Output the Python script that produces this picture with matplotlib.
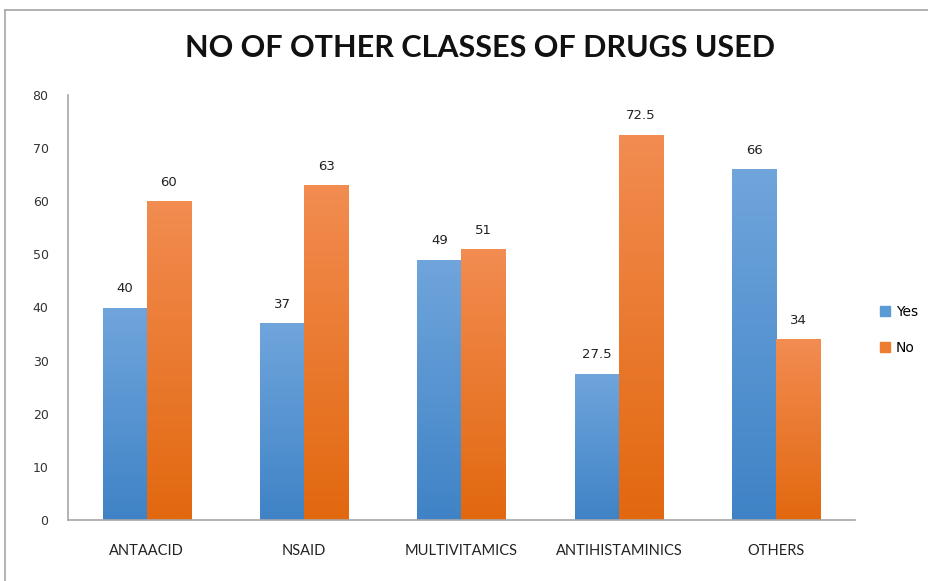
import numpy as np
import matplotlib.pyplot as plt
from matplotlib.colors import LinearSegmentedColormap
from matplotlib.lines import Line2D

categories = ['ANTAACID', 'NSAID', 'MULTIVITAMICS', 'ANTIHISTAMINICS', 'OTHERS']
yes_vals = [40, 37, 49, 27.5, 66]
no_vals = [60, 63, 51, 72.5, 34]
yes_labels = ['40', '37', '49', '27.5', '66']
no_labels = ['60', '63', '51', '72.5', '34']
yticks = [0, 10, 20, 30, 40, 50, 60, 70, 80]

fig = plt.figure(figsize=(9.29, 5.81), dpi=100)
ax = fig.add_axes([68/929, 1 - 520/581, (855-68)/929, (520-95)/581])

# outer chart frame
fig.add_artist(Line2D([5/929, 1], [1 - 10/581, 1 - 10/581], color='#a6a6a6', lw=1.2, transform=fig.transFigure))
fig.add_artist(Line2D([5/929, 5/929], [0, 1 - 10/581], color='#a6a6a6', lw=1.2, transform=fig.transFigure))

x = np.arange(len(categories))
w = 0.28
grad = np.linspace(0, 1, 256).reshape(-1, 1)
yes_cmap = LinearSegmentedColormap.from_list('yes', ['#3f83c6', '#70a5dc'])
no_cmap = LinearSegmentedColormap.from_list('no', ['#e2680f', '#f28c51'])


def gradient_bars(xs, vals, cmap, label):
    bars = ax.bar(xs, vals, w, color='none', edgecolor='none', label=label)
    for b in bars:
        x0, y0 = b.get_x(), b.get_y()
        im = ax.imshow(grad, cmap=cmap, origin='lower', aspect='auto',
                       extent=[x0, x0 + b.get_width(), y0, y0 + b.get_height()], zorder=2)
        im.set_clip_path(b)
    return bars


gradient_bars(x - w/2, yes_vals, yes_cmap, 'Yes')
gradient_bars(x + w/2, no_vals, no_cmap, 'No')

for xi, v, t in zip(x - w/2, yes_vals, yes_labels):
    ax.annotate(t, (xi, v), xytext=(0, 9), textcoords='offset points',
                ha='center', va='bottom', fontsize=9.5, color='#222222')
for xi, v, t in zip(x + w/2, no_vals, no_labels):
    ax.annotate(t, (xi, v), xytext=(0, 9), textcoords='offset points',
                ha='center', va='bottom', fontsize=9.5, color='#222222')

ax.set_xlim(-0.5, len(categories) - 0.5)
ax.set_ylim(0, 80)
ax.set_yticks(yticks)
ax.set_yticklabels([str(t) for t in yticks], fontsize=9, color='#333333')
ax.set_xticks(x)
ax.set_xticklabels(categories, fontsize=10.5, family='Lato', color='#222222')
ax.tick_params(axis='y', length=0, pad=14)
ax.tick_params(axis='x', length=0, pad=17)
for s in ['top', 'right']:
    ax.spines[s].set_visible(False)
for s in ['left', 'bottom']:
    ax.spines[s].set_color('#a6a6a6')
    ax.spines[s].set_linewidth(1.2)

handles = [plt.Rectangle((0, 0), 1, 1, color='#5b9bd5'), plt.Rectangle((0, 0), 1, 1, color='#ed7d31')]
fig.legend(handles, ['Yes', 'No'], loc='center left', bbox_to_anchor=(868/929, 1 - 330/581),
           frameon=False, fontsize=10, handlelength=0.7, handleheight=0.7,
           handletextpad=0.4, labelspacing=1.6)

fig.text(480/929, 1 - 48/581, 'NO OF OTHER CLASSES OF DRUGS USED', ha='center', va='center',
         fontsize=22, family='Lato', fontweight='bold', color='#111111')

fig.savefig('out.png', dpi=100)
